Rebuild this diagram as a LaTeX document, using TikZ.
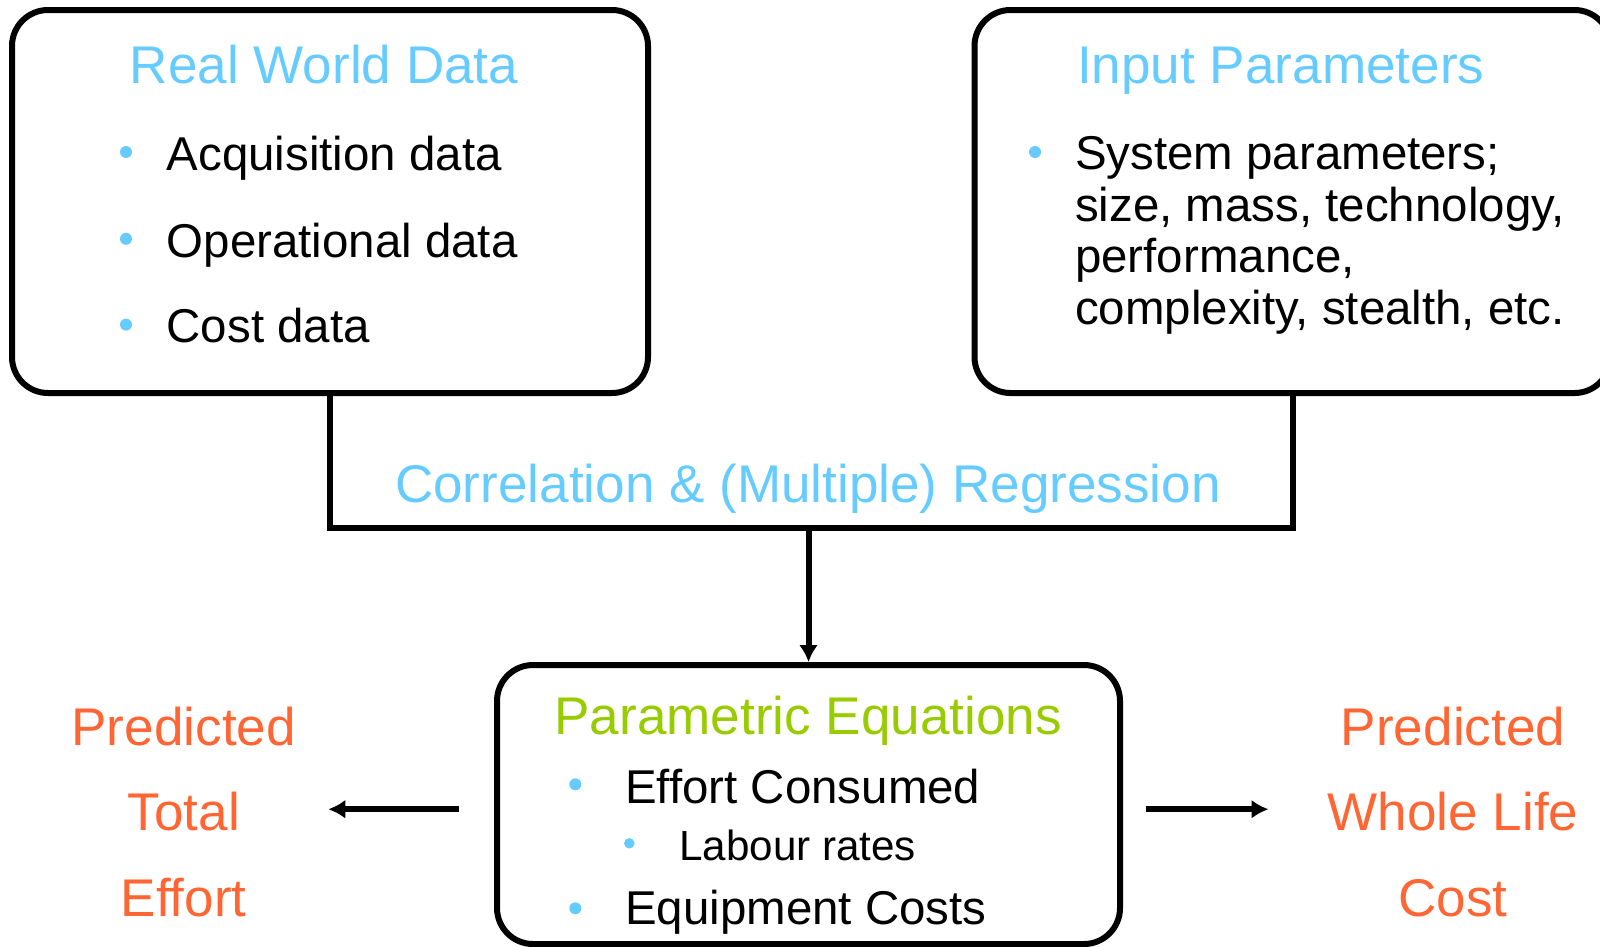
\documentclass[tikz,border=0pt]{standalone}
\usepackage{fontspec}
\setmainfont{Liberation Sans}
\usetikzlibrary{arrows.meta}
\definecolor{skyblue}{RGB}{102,204,255}
\definecolor{leafgreen}{RGB}{153,204,0}
\definecolor{predorange}{RGB}{255,102,51}

\begin{document}
\begin{tikzpicture}[
  box/.style={draw, line width=0.06cm, rounded corners=0.36cm, inner sep=0pt},
  boxtitle/.style={font=\fontsize{15.1}{18}\selectfont, text=skyblue, inner sep=0pt, anchor=base},
  item/.style={font=\fontsize{13.5}{16}\selectfont, inner sep=0pt, anchor=base west},
  subitem/.style={font=\fontsize{12}{14}\selectfont, inner sep=0pt, anchor=base west},
  pred/.style={font=\fontsize{15.1}{18}\selectfont, text=predorange, inner sep=0pt, anchor=base},
  bulletdot/.style={circle, fill=skyblue, inner sep=0pt, minimum size=0.12cm},
  arr/.style={-{Latex[length=0.17cm, width=0.19cm]}, line width=0.06cm},
  sidearr/.style={-{Latex[length=0.17cm, width=0.19cm]}, line width=0.065cm},
]
\useasboundingbox (0,0) rectangle (16,-9.46);

% the two source boxes
\node[box, minimum width=6.36cm, minimum height=3.83cm] (rwd) at (3.30,-2.015) {};
\node[boxtitle] (rwdtitle) at (3.24,-0.837) {Real World Data};
\node[bulletdot] (rwdb1) at (1.26,-1.52) {};
\node[item] (rwd1) at (1.66,-1.704) {Acquisition data};
\node[bulletdot] (rwdb2) at (1.26,-2.388) {};
\node[item] (rwd2) at (1.66,-2.571) {Operational data};
\node[bulletdot] (rwdb3) at (1.26,-3.246) {};
\node[item] (rwd3) at (1.66,-3.429) {Cost data};

\node[box, minimum width=6.36cm, minimum height=3.83cm] (inp) at (12.925,-2.015) {};
\node[boxtitle, anchor=base west] (inptitle) at (10.765,-0.837) {Input Parameters};
\node[bulletdot] (inpb1) at (10.35,-1.52) {};
\node[item] (inp1) at (10.745,-1.695) {System parameters;};
\node[item] (inp2) at (10.745,-2.212) {size, mass, technology,};
\node[item] (inp3) at (10.745,-2.729) {performance,};
\node[item] (inp4) at (10.745,-3.246) {complexity, stealth, etc.};

% regression bracket
\coordinate (regbase) at (8.085,-5.276);
\draw[line width=0.06cm] (rwd.south) |- (regbase) -| (inp.south);
\node[boxtitle] (reg) at (8.08,-5.02) {Correlation \& (Multiple) Regression};

% equations box
\node[box, minimum width=6.23cm, minimum height=2.79cm] (pe) at (8.085,-8.045) {};
\node[boxtitle, text=leafgreen] (petitle) at (8.082,-7.347) {Parametric Equations};
\node[bulletdot] (peb1) at (5.753,-7.843) {};
\node[item] (pe1) at (6.245,-8.03) {Effort Consumed};
\node[bulletdot, minimum size=0.105cm] (peb2) at (6.293,-8.433) {};
\node[subitem] (pe2) at (6.786,-8.60) {Labour rates};
\node[bulletdot] (peb3) at (5.753,-9.083) {};
\node[item] (pe3) at (6.245,-9.245) {Equipment Costs};

\draw[arr] (regbase) -- (pe.north);

% outputs
\node[pred] (tot1) at (1.837,-7.45) {Predicted};
\node[pred] (tot2) at (1.837,-8.306) {Total};
\node[pred] (tot3) at (1.837,-9.163) {Effort};
\node[pred] (wlc1) at (14.53,-7.45) {Predicted};
\node[pred] (wlc2) at (14.53,-8.306) {Whole Life};
\node[pred] (wlc3) at (14.53,-9.163) {Cost};

\coordinate (lefttip) at (3.283,-8.092);
\coordinate (righttip) at (12.685,-8.092);
\draw[sidearr] ([xshift=-0.355cm, yshift=-0.047cm]pe.west) -- (lefttip);
\draw[sidearr] ([xshift=0.23cm, yshift=-0.047cm]pe.east) -- (righttip);
\end{tikzpicture}
\end{document}
